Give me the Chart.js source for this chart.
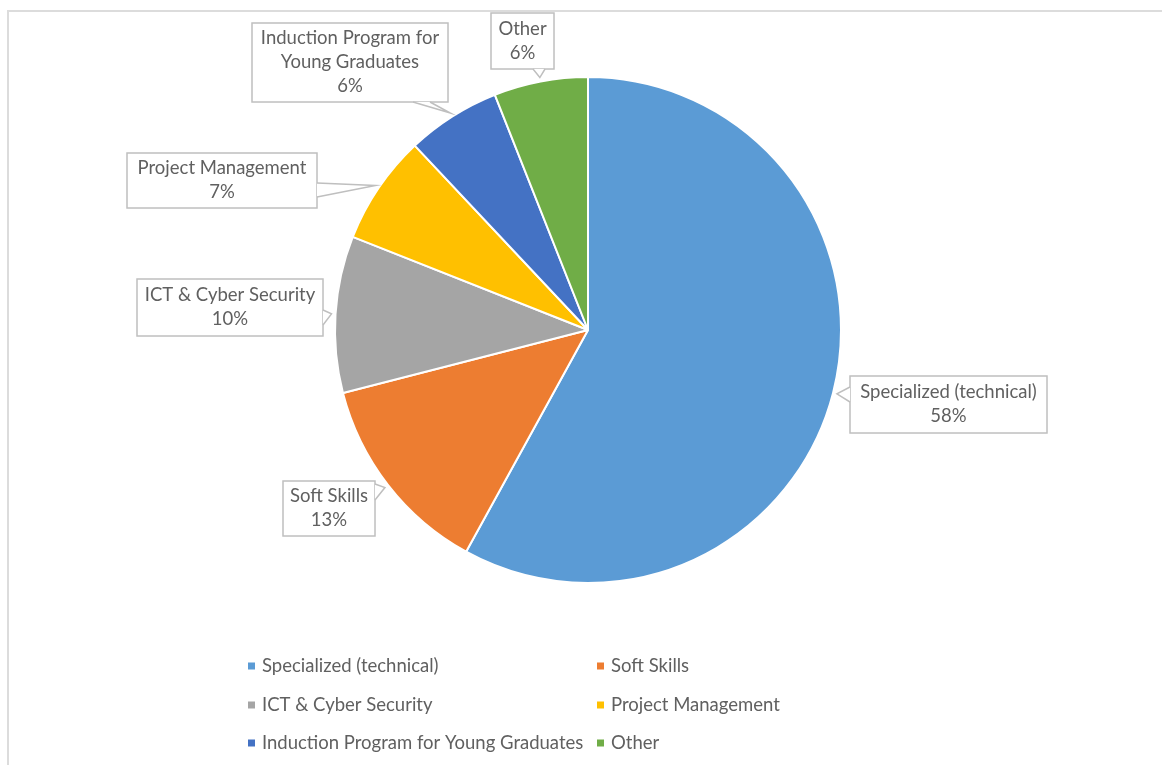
<!DOCTYPE html>
<html>
<head>
<meta charset="utf-8">
<script src="https://cdn.jsdelivr.net/npm/chart.js@4"></script>
<style>
    html, body { margin: 0; padding: 0; background: #fff; }
    #wrap { position: relative; width: 1162px; height: 765px; overflow: hidden; }
    #frame { position: absolute; left: 7px; top: 10px; width: 1200px; height: 800px;
             border-top: 2px solid #dcdcdc; border-left: 2px solid #dcdcdc; box-sizing: border-box; }
    #chart { position: absolute; left: 0; top: 0; }
</style>
</head>
<body>
<div id="wrap">
    <div id="frame"></div>
    <canvas id="chart" width="1162" height="765"></canvas>
</div>
<script>
var labels = ['Specialized (technical)', 'Soft Skills', 'ICT & Cyber Security', 'Project Management', 'Induction Program for Young Graduates', 'Other'];
var values = [58, 13, 10, 7, 6, 6];
var colors = ['#5b9bd5', '#ed7d31', '#a5a5a5', '#ffc000', '#4472c4', '#70ad47'];
// callout text lines (label wrapped like in excel)
var calloutLines = [
    ['Specialized (technical)'],
    ['Soft Skills'],
    ['ICT & Cyber Security'],
    ['Project Management'],
    ['Induction Program for', 'Young Graduates'],
    ['Other']
];

// callout box layout: box in px, side of the wedge, wedge base offsets along that side
var calloutBoxes = [
    { x: 850, y: 376, w: 197, h: 57, side: 'left', base: [11, 26] },
    { x: 283, y: 481, w: 92, h: 55, side: 'right', base: [3, 19] },
    { x: 137, y: 279, w: 186, h: 57, side: 'right', base: [31, 46] },
    { x: 127, y: 153, w: 190, h: 55, side: 'right', base: [30, 44] },
    { x: 252, y: 23, w: 196, h: 79, side: 'bottom', base: [161, 178] },
    { x: 491, y: 13, w: 63, h: 56, side: 'bottom', base: [42, 54] }
];

var fontFamily = 'Lato, "Open Sans", sans-serif';
var fontSize = 18.5;
var textColor = '#606060';

var calloutPlugin = {
    id: 'callouts',
    afterDatasetsDraw: function(chart) {
        var ctx = chart.ctx;
        var arcs = chart.getDatasetMeta(0).data;
        var total = values.reduce(function(a, b) { return a + b; }, 0);
        ctx.save();
        ctx.font = fontSize + 'px ' + fontFamily;
        ctx.textAlign = 'center';
        ctx.textBaseline = 'middle';
        for (var i = 0; i < arcs.length; i++) {
            var arc = arcs[i];
            var mid = (arc.startAngle + arc.endAngle) / 2;
            var r = arc.outerRadius + 4;
            var tipX = arc.x + Math.cos(mid) * r;
            var tipY = arc.y + Math.sin(mid) * r;
            var b = calloutBoxes[i];
            var p1, p2;
            if (b.side == 'left') {
                p1 = [b.x, b.y + b.base[0]];
                p2 = [b.x, b.y + b.base[1]];
            } else if (b.side == 'right') {
                p1 = [b.x + b.w, b.y + b.base[0]];
                p2 = [b.x + b.w, b.y + b.base[1]];
            } else {
                p1 = [b.x + b.base[0], b.y + b.h];
                p2 = [b.x + b.base[1], b.y + b.h];
            }
            // box
            ctx.fillStyle = '#fff';
            ctx.strokeStyle = '#bfbfbf';
            ctx.lineWidth = 1.5;
            ctx.fillRect(b.x, b.y, b.w, b.h);
            ctx.strokeRect(b.x, b.y, b.w, b.h);
            // wedge
            ctx.beginPath();
            ctx.moveTo(p1[0], p1[1]);
            ctx.lineTo(tipX, tipY);
            ctx.lineTo(p2[0], p2[1]);
            ctx.closePath();
            ctx.fill();
            ctx.beginPath();
            ctx.moveTo(p1[0], p1[1]);
            ctx.lineTo(tipX, tipY);
            ctx.lineTo(p2[0], p2[1]);
            ctx.stroke();
            // text
            var lines = calloutLines[i].concat([Math.round(values[i] / total * 100) + '%']);
            var lh = 24;
            var cx = b.x + b.w / 2;
            var cy = b.y + b.h / 2 - (lines.length - 1) * lh / 2;
            ctx.fillStyle = textColor;
            for (var j = 0; j < lines.length; j++) {
                ctx.fillText(lines[j], cx, cy + j * lh);
            }
        }
        ctx.restore();
    }
};

// legend in two columns like the original
var legendCols = [248, 597];
var legendRows = [666, 705, 743];
var legendPlugin = {
    id: 'sideLegend',
    afterDraw: function(chart) {
        var ctx = chart.ctx;
        ctx.save();
        ctx.font = fontSize + 'px ' + fontFamily;
        ctx.textAlign = 'left';
        ctx.textBaseline = 'middle';
        for (var i = 0; i < labels.length; i++) {
            var x = legendCols[i % 2];
            var y = legendRows[Math.floor(i / 2)];
            ctx.fillStyle = colors[i];
            ctx.fillRect(x, y - 3.5, 7, 7);
            ctx.fillStyle = textColor;
            ctx.fillText(labels[i], x + 14, y);
        }
        ctx.restore();
    }
};

var ctx = document.getElementById('chart').getContext('2d');
var myChart = new Chart(ctx, {
    type: 'pie',
    data: {
        labels: labels,
        datasets: [{
            data: values,
            backgroundColor: colors,
            borderColor: '#ffffff',
            borderWidth: 2
        }]
    },
    options: {
        responsive: false,
        animation: false,
        layout: {
            padding: { left: 334, right: 320, top: 76, bottom: 181 }
        },
        plugins: {
            legend: { display: false },
            tooltip: { enabled: false }
        }
    },
    plugins: [calloutPlugin, legendPlugin]
});
</script>
</body>
</html>
